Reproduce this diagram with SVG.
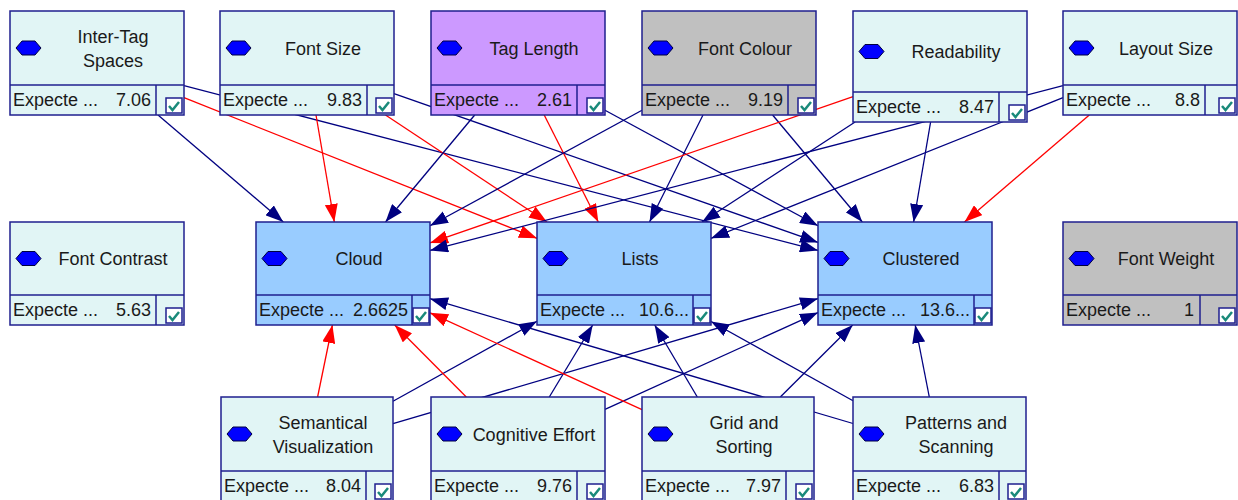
<svg xmlns="http://www.w3.org/2000/svg" width="1238" height="500" viewBox="0 0 1238 500">
<style>
.body{stroke:#1f1f8f;stroke-width:1.5}
.sep{stroke:#1f1f8f;stroke-width:1.5}
.hex{fill:#0000ff;stroke:#000040;stroke-width:1}
.lbl{font-family:"Liberation Sans",Arial,sans-serif;font-size:18px;fill:#1a1a1a;text-anchor:middle}
.exp{font-family:"Liberation Sans",Arial,sans-serif;font-size:18px;fill:#1a1a1a}
.val{font-family:"Liberation Sans",Arial,sans-serif;font-size:18px;fill:#1a1a1a;text-anchor:end}
.cb{fill:#ffffff;stroke:#1f1f8f;stroke-width:1.5}
.ck{fill:none;stroke:#1a8a7a;stroke-width:2.5}
.lt{fill:#e1f5f5}
.pu{fill:#cc99ff}
.gr{fill:#c0c0c0}
.bl{fill:#99ccff}
.eb{stroke:#000080;stroke-width:1.3;fill:none;marker-end:url(#ab)}
.er{stroke:#ff0000;stroke-width:1.3;fill:none;marker-end:url(#ar)}
</style>
<defs>
<marker id="ab" viewBox="0 0 18 13" refX="18" refY="6.5" markerWidth="18" markerHeight="13" markerUnits="userSpaceOnUse" orient="auto"><path d="M0,0 L18,6.5 L0,13 z" fill="#000080"/></marker>
<marker id="ar" viewBox="0 0 18 13" refX="18" refY="6.5" markerWidth="18" markerHeight="13" markerUnits="userSpaceOnUse" orient="auto"><path d="M0,0 L18,6.5 L0,13 z" fill="#ff0000"/></marker>
</defs>
<rect width="1238" height="500" fill="#ffffff"/>
<g id="connectors">
<line class="eb" x1="158" y1="115" x2="283.3" y2="222"/>
<line class="er" x1="184" y1="97.7" x2="537" y2="238.3"/>
<line class="eb" x1="184" y1="85.6" x2="818" y2="250.4"/>
<line class="er" x1="316" y1="115" x2="334.3" y2="222"/>
<line class="er" x1="385.5" y1="115" x2="547" y2="222"/>
<line class="eb" x1="394" y1="93.6" x2="818" y2="242.4"/>
<line class="eb" x1="474.7" y1="115" x2="385.5" y2="222"/>
<line class="er" x1="544.2" y1="115" x2="598.3" y2="222"/>
<line class="eb" x1="605" y1="110.2" x2="818" y2="225.8"/>
<line class="eb" x1="642" y1="110.3" x2="430" y2="225.7"/>
<line class="eb" x1="703" y1="115" x2="649.5" y2="222"/>
<line class="eb" x1="772.6" y1="115" x2="862.3" y2="222"/>
<line class="er" x1="853" y1="96.6" x2="430" y2="242.9"/>
<line class="eb" x1="855.1" y1="122" x2="702" y2="222"/>
<line class="eb" x1="930.6" y1="122" x2="913.6" y2="222"/>
<line class="eb" x1="1063" y1="85.6" x2="430" y2="250.4"/>
<line class="eb" x1="1063" y1="97.7" x2="711" y2="238.3"/>
<line class="er" x1="1089.3" y1="115" x2="964.5" y2="222"/>
<line class="er" x1="317.6" y1="397" x2="332.4" y2="325"/>
<line class="eb" x1="393" y1="401.3" x2="537" y2="321.3"/>
<line class="eb" x1="393" y1="423.7" x2="818" y2="298.6"/>
<line class="er" x1="466.3" y1="397" x2="394.7" y2="325"/>
<line class="eb" x1="549.3" y1="397" x2="592.7" y2="325"/>
<line class="eb" x1="605" y1="409.4" x2="818" y2="312.6"/>
<line class="er" x1="642" y1="409.7" x2="430" y2="312.8"/>
<line class="eb" x1="697.3" y1="397" x2="654.7" y2="325"/>
<line class="eb" x1="780.3" y1="397" x2="852.7" y2="325"/>
<line class="eb" x1="853" y1="423.5" x2="430" y2="298.7"/>
<line class="eb" x1="853" y1="400.7" x2="711" y2="321.5"/>
<line class="eb" x1="929.3" y1="397" x2="915.2" y2="325"/>
</g>

<g id="inter-tag-spaces">
<rect class="body lt" x="10" y="11" width="174" height="104"/>
<line class="sep" x1="10" y1="85" x2="184" y2="85"/>
<line class="sep" x1="156" y1="85" x2="156" y2="115"/>
<polygon class="hex" points="16,48 22,41 35,41 41,48 35,55 22,55"/>
<text class="lbl" x="113" y="42.5">Inter-Tag</text>
<text class="lbl" x="113" y="66.5">Spaces</text>
<text class="exp" x="13" y="106">Expecte ...</text>
<text class="val" x="151" y="106">7.06</text>
<rect class="cb" x="166" y="98" width="16" height="15"/>
<path class="ck" d="M169,106 L172.5,110 L179,102"/>
</g>

<g id="font-size">
<rect class="body lt" x="220" y="11" width="174" height="104"/>
<line class="sep" x1="220" y1="85" x2="394" y2="85"/>
<line class="sep" x1="367" y1="85" x2="367" y2="115"/>
<polygon class="hex" points="226,48 232,41 245,41 251,48 245,55 232,55"/>
<text class="lbl" x="323" y="54.5">Font Size</text>
<text class="exp" x="223" y="106">Expecte ...</text>
<text class="val" x="362" y="106">9.83</text>
<rect class="cb" x="376" y="98" width="16" height="15"/>
<path class="ck" d="M379,106 L382.5,110 L389,102"/>
</g>

<g id="tag-length">
<rect class="body pu" x="431" y="11" width="174" height="104"/>
<line class="sep" x1="431" y1="85" x2="605" y2="85"/>
<line class="sep" x1="577" y1="85" x2="577" y2="115"/>
<polygon class="hex" points="437,48 443,41 456,41 462,48 456,55 443,55"/>
<text class="lbl" x="534" y="54.5">Tag Length</text>
<text class="exp" x="434" y="106">Expecte ...</text>
<text class="val" x="572" y="106">2.61</text>
<rect class="cb" x="587" y="98" width="16" height="15"/>
<path class="ck" d="M590,106 L593.5,110 L600,102"/>
</g>

<g id="font-colour">
<rect class="body gr" x="642" y="11" width="174" height="104"/>
<line class="sep" x1="642" y1="85" x2="816" y2="85"/>
<line class="sep" x1="788" y1="85" x2="788" y2="115"/>
<polygon class="hex" points="648,48 654,41 667,41 673,48 667,55 654,55"/>
<text class="lbl" x="745" y="54.5">Font Colour</text>
<text class="exp" x="645" y="106">Expecte ...</text>
<text class="val" x="783" y="106">9.19</text>
<rect class="cb" x="798" y="98" width="16" height="15"/>
<path class="ck" d="M801,106 L804.5,110 L811,102"/>
</g>

<g id="readability">
<rect class="body lt" x="853" y="11" width="174" height="111"/>
<line class="sep" x1="853" y1="92" x2="1027" y2="92"/>
<line class="sep" x1="999" y1="92" x2="999" y2="122"/>
<polygon class="hex" points="859,51.5 865,44.5 878,44.5 884,51.5 878,58.5 865,58.5"/>
<text class="lbl" x="956" y="58">Readability</text>
<text class="exp" x="856" y="113">Expecte ...</text>
<text class="val" x="994" y="113">8.47</text>
<rect class="cb" x="1009" y="105" width="16" height="15"/>
<path class="ck" d="M1012,113 L1015.5,117 L1022,109"/>
</g>

<g id="layout-size">
<rect class="body lt" x="1063" y="11" width="174" height="104"/>
<line class="sep" x1="1063" y1="85" x2="1237" y2="85"/>
<line class="sep" x1="1205" y1="85" x2="1205" y2="115"/>
<polygon class="hex" points="1069,48 1075,41 1088,41 1094,48 1088,55 1075,55"/>
<text class="lbl" x="1166" y="54.5">Layout Size</text>
<text class="exp" x="1066" y="106">Expecte ...</text>
<text class="val" x="1200" y="106">8.8</text>
<rect class="cb" x="1219" y="98" width="16" height="15"/>
<path class="ck" d="M1222,106 L1225.5,110 L1232,102"/>
</g>

<g id="font-contrast">
<rect class="body lt" x="10" y="222" width="174" height="103"/>
<line class="sep" x1="10" y1="295" x2="184" y2="295"/>
<line class="sep" x1="156" y1="295" x2="156" y2="325"/>
<polygon class="hex" points="16,258.5 22,251.5 35,251.5 41,258.5 35,265.5 22,265.5"/>
<text class="lbl" x="113" y="265">Font Contrast</text>
<text class="exp" x="13" y="316">Expecte ...</text>
<text class="val" x="151" y="316">5.63</text>
<rect class="cb" x="166" y="308" width="16" height="15"/>
<path class="ck" d="M169,316 L172.5,320 L179,312"/>
</g>

<g id="cloud">
<rect class="body bl" x="256" y="222" width="174" height="103"/>
<line class="sep" x1="256" y1="295" x2="430" y2="295"/>
<line class="sep" x1="412" y1="295" x2="412" y2="325"/>
<polygon class="hex" points="262,258.5 268,251.5 281,251.5 287,258.5 281,265.5 268,265.5"/>
<text class="lbl" x="359" y="265">Cloud</text>
<text class="exp" x="259" y="316">Expecte ...</text>
<text class="val" x="408" y="316">2.6625</text>
<rect class="cb" x="413" y="308" width="16" height="15"/>
<path class="ck" d="M416,316 L419.5,320 L426,312"/>
</g>

<g id="lists">
<rect class="body bl" x="537" y="222" width="174" height="103"/>
<line class="sep" x1="537" y1="295" x2="711" y2="295"/>
<line class="sep" x1="693" y1="295" x2="693" y2="325"/>
<polygon class="hex" points="543,258.5 549,251.5 562,251.5 568,258.5 562,265.5 549,265.5"/>
<text class="lbl" x="640" y="265">Lists</text>
<text class="exp" x="540" y="316">Expecte ...</text>
<text class="val" x="689" y="316">10.6...</text>
<rect class="cb" x="694" y="308" width="16" height="15"/>
<path class="ck" d="M697,316 L700.5,320 L707,312"/>
</g>

<g id="clustered">
<rect class="body bl" x="818" y="222" width="174" height="103"/>
<line class="sep" x1="818" y1="295" x2="992" y2="295"/>
<line class="sep" x1="974" y1="295" x2="974" y2="325"/>
<polygon class="hex" points="824,258.5 830,251.5 843,251.5 849,258.5 843,265.5 830,265.5"/>
<text class="lbl" x="921" y="265">Clustered</text>
<text class="exp" x="821" y="316">Expecte ...</text>
<text class="val" x="970" y="316">13.6...</text>
<rect class="cb" x="975" y="308" width="16" height="15"/>
<path class="ck" d="M978,316 L981.5,320 L988,312"/>
</g>

<g id="font-weight">
<rect class="body gr" x="1063" y="222" width="174" height="103"/>
<line class="sep" x1="1063" y1="295" x2="1237" y2="295"/>
<line class="sep" x1="1200" y1="295" x2="1200" y2="325"/>
<polygon class="hex" points="1069,258.5 1075,251.5 1088,251.5 1094,258.5 1088,265.5 1075,265.5"/>
<text class="lbl" x="1166" y="265">Font Weight</text>
<text class="exp" x="1066" y="316">Expecte ...</text>
<text class="val" x="1194" y="316">1</text>
<rect class="cb" x="1219" y="308" width="16" height="15"/>
<path class="ck" d="M1222,316 L1225.5,320 L1232,312"/>
</g>

<g id="semantical-visualization">
<rect class="body lt" x="221" y="397" width="172" height="104"/>
<line class="sep" x1="221" y1="471" x2="393" y2="471"/>
<line class="sep" x1="366" y1="471" x2="366" y2="501"/>
<polygon class="hex" points="227,434 233,427 246,427 252,434 246,441 233,441"/>
<text class="lbl" x="323" y="428.5">Semantical</text>
<text class="lbl" x="323" y="452.5">Visualization</text>
<text class="exp" x="224" y="492">Expecte ...</text>
<text class="val" x="361" y="492">8.04</text>
<rect class="cb" x="375" y="484" width="16" height="15"/>
<path class="ck" d="M378,492 L381.5,496 L388,488"/>
</g>

<g id="cognitive-effort">
<rect class="body lt" x="431" y="397" width="174" height="104"/>
<line class="sep" x1="431" y1="471" x2="605" y2="471"/>
<line class="sep" x1="577" y1="471" x2="577" y2="501"/>
<polygon class="hex" points="437,434 443,427 456,427 462,434 456,441 443,441"/>
<text class="lbl" x="534" y="440.5">Cognitive Effort</text>
<text class="exp" x="434" y="492">Expecte ...</text>
<text class="val" x="572" y="492">9.76</text>
<rect class="cb" x="587" y="484" width="16" height="15"/>
<path class="ck" d="M590,492 L593.5,496 L600,488"/>
</g>

<g id="grid-and-sorting">
<rect class="body lt" x="642" y="397" width="172" height="104"/>
<line class="sep" x1="642" y1="471" x2="814" y2="471"/>
<line class="sep" x1="786" y1="471" x2="786" y2="501"/>
<polygon class="hex" points="648,434 654,427 667,427 673,434 667,441 654,441"/>
<text class="lbl" x="744" y="428.5">Grid and</text>
<text class="lbl" x="744" y="452.5">Sorting</text>
<text class="exp" x="645" y="492">Expecte ...</text>
<text class="val" x="781" y="492">7.97</text>
<rect class="cb" x="796" y="484" width="16" height="15"/>
<path class="ck" d="M799,492 L802.5,496 L809,488"/>
</g>

<g id="patterns-and-scanning">
<rect class="body lt" x="853" y="397" width="173" height="104"/>
<line class="sep" x1="853" y1="471" x2="1026" y2="471"/>
<line class="sep" x1="999" y1="471" x2="999" y2="501"/>
<polygon class="hex" points="859,434 865,427 878,427 884,434 878,441 865,441"/>
<text class="lbl" x="956" y="428.5">Patterns and</text>
<text class="lbl" x="956" y="452.5">Scanning</text>
<text class="exp" x="856" y="492">Expecte ...</text>
<text class="val" x="994" y="492">6.83</text>
<rect class="cb" x="1008" y="484" width="16" height="15"/>
<path class="ck" d="M1011,492 L1014.5,496 L1021,488"/>
</g>
</svg>
